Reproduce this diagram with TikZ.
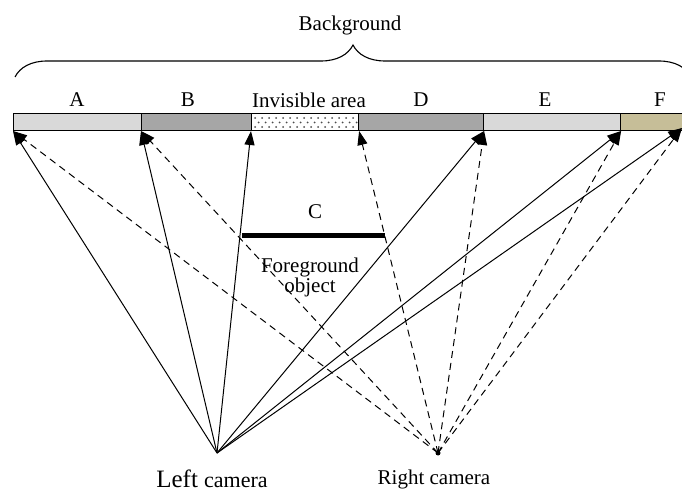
\documentclass[tikz,border=0pt]{standalone}
\usepackage{fontspec}
\setmainfont{Liberation Serif}
\usetikzlibrary{calc, arrows.meta, decorations.pathreplacing}

\definecolor{lightbar}{RGB}{217,217,217}
\definecolor{darkbar}{RGB}{166,166,166}
\definecolor{tanbar}{RGB}{198,190,152}

\begin{document}
\begin{tikzpicture}[x=1pt,y=1pt,
  seg/.style={draw, line width=1.1pt, minimum height=17pt, inner sep=0pt, anchor=south west},
  lbl/.style={font=\fontsize{21}{20}\selectfont},
  ray/.style={-{Triangle[length=14pt,width=10pt]}, line width=1pt},
  dray/.style={ray, dash pattern=on 7pt off 5pt}]
  \useasboundingbox (0,0) rectangle (682,493);

  % background bar
  \node[seg, fill=lightbar, minimum width=128pt] (segA) at (13,362) {};
  \node[seg, fill=darkbar, minimum width=110pt] (segB) at (141,362) {};
  \node[seg, fill=white, minimum width=107pt] (segI) at (251,362) {};
  \node[seg, fill=darkbar, minimum width=125pt] (segD) at (358,362) {};
  \node[seg, fill=lightbar, minimum width=137pt] (segE) at (483,362) {};
  \node[seg, fill=tanbar, minimum width=66pt] (segF) at (620,362) {};

  % dots of the invisible area
  \begin{scope}
    \clip (segI.south west) rectangle (segI.north east);
    \foreach \i in {0,...,15} {
      \fill[gray!60!black] ($(segI.south west)+(4+7*\i,4)$) circle (1pt);
      \fill[gray!60!black] ($(segI.south west)+(7.5+7*\i,8.5)$) circle (1pt);
      \fill[gray!60!black] ($(segI.south west)+(4+7*\i,13)$) circle (1pt);
    }
  \end{scope}

  % labels
  \node[lbl] (labA) at (77,393) {A};
  \node[lbl] (labB) at (188,393) {B};
  \node[lbl] (labI) at (309,393) {Invisible area};
  \node[lbl] (labD) at (421,393) {D};
  \node[lbl] (labE) at (545,393) {E};
  \node[lbl] (labF) at (660,393) {F};

  % brace
  \draw[line width=1.1pt, decorate, decoration={brace, amplitude=32pt}] (15,416) -- (691,416);
  \node[lbl] (back) at (350,468) {Background};

  % foreground object
  \coordinate (fgL) at (242,257);
  \coordinate (fgR) at (385,257);
  \draw[line width=5pt] (fgL) -- (fgR);
  \node[lbl] (labC) at (315,281) {C};
  \node[lbl, align=center] (fg) at (310,216) {Foreground\\object};

  % cameras
  \coordinate (lcam) at (217,40);
  \coordinate (rcam) at (438,40);
  \fill (rcam) circle (2.5pt);
  \node[inner sep=1pt] (lcamlab) at (212,14) {\fontsize{25}{27}\selectfont Left \fontsize{22}{24}\selectfont camera};
  \node[lbl] (rcamlab) at (434,14) {Right camera};

  % left camera rays
  \draw[ray] (lcam) -- (segA.south west);
  \draw[ray] (lcam) -- (segB.south west);
  \draw[ray] (lcam) -- (segI.south west);
  \draw[ray] (lcam) -- (segD.south east);
  \draw[ray] (lcam) -- (segE.south east);
  \draw[ray] (lcam) -- (682,365);

  % right camera rays
  \draw[dray] (rcam) -- (segA.south west);
  \draw[dray] (rcam) -- (segB.south west);
  \draw[dray] (rcam) -- (segI.south east);
  \draw[dray] (rcam) -- (segD.south east);
  \draw[dray] (rcam) -- (segE.south east);
  \draw[dray] (rcam) -- (682,365);
\end{tikzpicture}
\end{document}
